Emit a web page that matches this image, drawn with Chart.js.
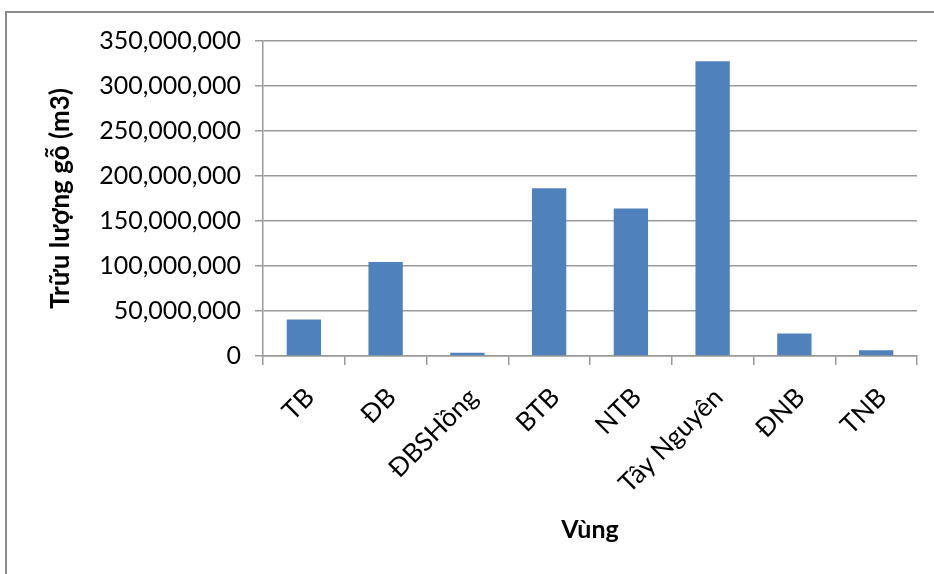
<!DOCTYPE html>
<html>
<head>
<meta charset="utf-8">
<script src="https://cdn.jsdelivr.net/npm/chart.js@4.4.1/dist/chart.umd.min.js"></script>
<style>
  html, body { margin: 0; padding: 0; background: #fff; }
  #wrap { position: relative; width: 934px; height: 574px; }
</style>
</head>
<body>
<div id="wrap"><canvas id="c" width="934" height="574"></canvas></div>
<script>
// Regions (vùng) and their timber reserves in m3
const regions = ['TB', 'ĐB', 'ĐBSHồng', 'BTB', 'NTB', 'Tây Nguyên', 'ĐNB', 'TNB'];
const reserves = [40500000, 104500000, 3500000, 186500000, 164000000, 327500000, 25000000, 6500000];
const yMax = 350000000;
const yStep = 50000000;
const yTitle = 'Trữu lượng gỗ (m3)';
const xTitle = 'Vùng';

const FONT = 'Lato, "Open Sans", sans-serif';
const GRID = '#9a9a9a';

// frame lines along the top and left edge of the chart
const framePlugin = {
  id: 'frame',
  beforeDraw(chart) {
    const ctx = chart.ctx;
    ctx.save();
    ctx.strokeStyle = '#8a8a8a';
    ctx.lineWidth = 2;
    ctx.beginPath();
    ctx.moveTo(6, 574);
    ctx.lineTo(6, 12);
    ctx.lineTo(934, 12);
    ctx.stroke();
    ctx.restore();
  }
};

new Chart(document.getElementById('c'), {
  type: 'bar',
  data: {
    labels: regions,
    datasets: [{
      data: reserves,
      backgroundColor: '#4F81BD',
      borderWidth: 0,
      categoryPercentage: 1,
      barPercentage: 0.42
    }]
  },
  options: {
    responsive: false,
    animation: false,
    layout: { padding: { left: 0, top: 41, right: 17, bottom: 0 } },
    plugins: { legend: { display: false }, tooltip: { enabled: false } },
    scales: {
      x: {
        grid: { display: true, drawOnChartArea: false, tickLength: 9, color: GRID, lineWidth: 1.5, offset: true },
        border: { color: GRID, width: 1.5 },
        ticks: {
          color: '#000', font: { family: FONT, size: 26 },
          maxRotation: 45, minRotation: 45, padding: 17, labelOffset: 6
        },
        title: {
          display: true, text: xTitle, color: '#000',
          font: { family: FONT, size: 25, weight: 'bold' },
          padding: { top: 0, bottom: 29 }
        },
        afterFit(scale) { scale.height = 218; }
      },
      y: {
        min: 0, max: yMax,
        grid: { color: GRID, lineWidth: 1.5, tickLength: 8 },
        border: { color: GRID, width: 1.5 },
        ticks: {
          stepSize: yStep, color: '#000', padding: 14,
          font: { family: FONT, size: 25 },
          callback: v => Number(v).toLocaleString('en-US')
        },
        title: {
          display: true, text: yTitle, color: '#000',
          font: { family: FONT, size: 26, weight: 'bold' },
          padding: { top: 45, bottom: 0 }
        },
        afterFit(scale) { scale.width = 263; }
      }
    }
  },
  plugins: [framePlugin]
});
</script>
</body>
</html>
